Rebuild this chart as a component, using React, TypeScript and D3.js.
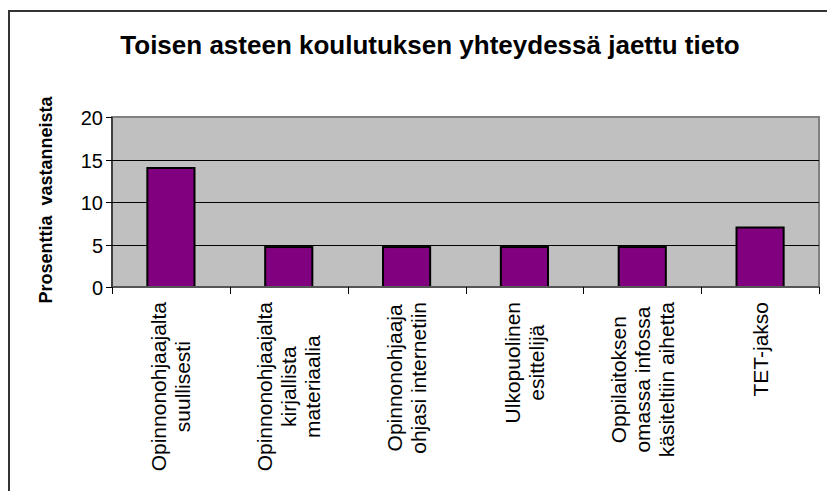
import { useRef, useEffect } from 'react'
import * as d3 from 'd3'

const categories: string[][] = [
  ['Opinnonohjaajalta', 'suullisesti'],
  ['Opinnonohjaajalta', 'kirjallista', 'materiaalia'],
  ['Opinnonohjaaja', 'ohjasi internetiin'],
  ['Ulkopuolinen', 'esittelijä'],
  ['Oppilaitoksen', 'omassa infossa', 'käsiteltiin aihetta'],
  ['TET-jakso'],
]
const values: number[] = [14, 4.7, 4.7, 4.7, 4.7, 7.0]
const yTicks: number[] = [0, 5, 10, 15, 20]

const title = 'Toisen asteen koulutuksen yhteydessä jaettu tieto'
const yTitle = 'Prosenttia  vastanneista'

const W = 827
const H = 491
const FONT = "'Liberation Sans', Arial, sans-serif"

export default function App() {
  const svgRef = useRef<SVGSVGElement>(null)

  useEffect(() => {
    const svg = d3.select(svgRef.current)
    svg.selectAll('*').remove()

    const plot = { left: 112, top: 117, right: 819, bottom: 287 }

    // outer chart border (runs past the right and bottom edges)
    svg.append('rect')
      .attr('x', 9).attr('y', 11)
      .attr('width', 900).attr('height', 600)
      .attr('fill', '#fff')
      .attr('stroke', '#333').attr('stroke-width', 2)

    const x = d3.scaleBand<number>()
      .domain(d3.range(categories.length))
      .range([plot.left, plot.right])
      .paddingInner(0.6).paddingOuter(0.3)
    const band = (plot.right - plot.left) / categories.length
    const y = d3.scaleLinear().domain([0, 20]).range([plot.bottom, plot.top])

    // plot area
    svg.append('rect')
      .attr('x', plot.left).attr('y', plot.top)
      .attr('width', plot.right - plot.left).attr('height', plot.bottom - plot.top)
      .attr('fill', '#c0c0c0')
      .attr('stroke', '#808080').attr('stroke-width', 2)

    // gridlines
    yTicks.filter((t) => t > 0 && t < 20).forEach((t) => {
      svg.append('line')
        .attr('x1', plot.left).attr('x2', plot.right)
        .attr('y1', Math.round(y(t)) + 0.5).attr('y2', Math.round(y(t)) + 0.5)
        .attr('stroke', '#000').attr('stroke-width', 1)
    })

    // bars
    values.forEach((v, i) => {
      svg.append('rect')
        .attr('x', x(i)!).attr('y', y(v))
        .attr('width', x.bandwidth()).attr('height', plot.bottom - y(v))
        .attr('fill', '#800080')
        .attr('stroke', '#000').attr('stroke-width', 2)
    })

    // axes
    svg.append('line')
      .attr('x1', plot.left).attr('x2', plot.left)
      .attr('y1', plot.top).attr('y2', plot.bottom)
      .attr('stroke', '#000').attr('stroke-width', 1)
    svg.append('line')
      .attr('x1', plot.left).attr('x2', plot.right)
      .attr('y1', plot.bottom).attr('y2', plot.bottom)
      .attr('stroke', '#555').attr('stroke-width', 2)

    yTicks.forEach((t) => {
      const ty = Math.round(y(t)) + 0.5
      svg.append('line')
        .attr('x1', plot.left - 6).attr('x2', plot.left)
        .attr('y1', ty).attr('y2', ty)
        .attr('stroke', '#000')
      svg.append('text')
        .attr('x', plot.left - 9).attr('y', ty)
        .attr('text-anchor', 'end').attr('dominant-baseline', 'central')
        .attr('font-family', FONT).attr('font-size', 20)
        .text(t)
    })

    d3.range(categories.length + 1).forEach((i) => {
      const tx = Math.round(plot.left + i * band) + 0.5
      svg.append('line')
        .attr('x1', tx).attr('x2', tx)
        .attr('y1', plot.bottom).attr('y2', plot.bottom + 7)
        .attr('stroke', '#000')
    })

    // category labels, rotated, lines centred on each other
    categories.forEach((lines, i) => {
      const cx = x(i)! + x.bandwidth() / 2
      const g = svg.append('g')
      const texts = lines.map((ln) =>
        g.append('text')
          .attr('font-family', FONT).attr('font-size', 21)
          .attr('text-anchor', 'middle').attr('dominant-baseline', 'central')
          .text(ln)
      )
      const maxW = d3.max(texts, (t) => (t.node() as SVGTextElement).getComputedTextLength()) || 0
      texts.forEach((t, j) => {
        t.attr('transform', `translate(${cx + (j - (lines.length - 1) / 2) * 24},${302 + maxW / 2}) rotate(-90)`)
      })
    })

    // titles
    svg.append('text')
      .attr('x', 430).attr('y', 54)
      .attr('text-anchor', 'middle')
      .attr('font-family', FONT).attr('font-size', 26).attr('font-weight', 'bold')
      .text(title)
    svg.append('text')
      .attr('transform', `translate(52,200) rotate(-90)`)
      .attr('text-anchor', 'middle')
      .attr('font-family', FONT).attr('font-size', 18).attr('font-weight', 'bold')
      .style('white-space', 'pre')
      .text(yTitle)
  }, [])

  return (
    <svg
      ref={svgRef}
      width={W}
      height={H}
      style={{ position: 'absolute', left: 0, top: 0, display: 'block', background: '#fff' }}
    />
  )
}
